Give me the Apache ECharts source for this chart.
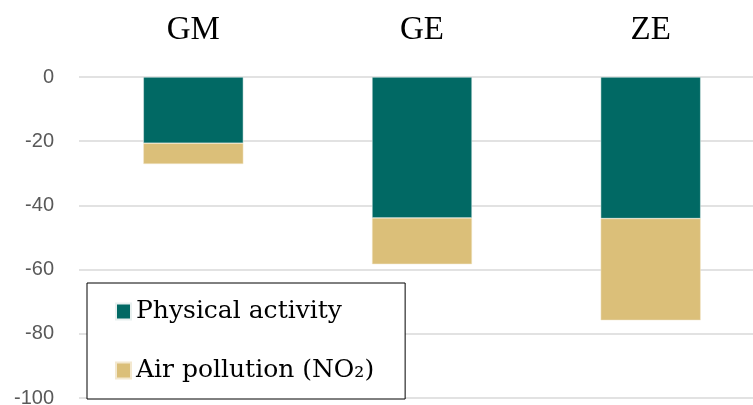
<!DOCTYPE html>
<html>
<head>
<meta charset="utf-8">
<script src="https://cdn.jsdelivr.net/npm/echarts@6/dist/echarts.min.js"></script>
<style>html,body{margin:0;padding:0;background:#fff;}#c{width:753px;height:405px;}</style>
</head>
<body>
<div id="c"></div>
<script>
const categories = ['GM', 'GE', 'ZE'];
const physicalActivity = [-20.6, -43.9, -44.1];
const airPollution = [-6.5, -14.4, -31.7];
const yTicks = [-100, -80, -60, -40, -20, 0];
const seriesNames = ['Physical activity', 'Air pollution (NO\u2082)'];

const chart = echarts.init(document.getElementById('c'));
chart.setOption({
  animation: false,
  backgroundColor: '#fff',
  grid: { left: 79, top: 77, height: 321, width: 686, containLabel: false, outerBoundsMode: 'none' },
  xAxis: {
    type: 'category',
    data: categories,
    position: 'top',
    axisLine: { show: false },
    axisTick: { show: false },
    axisLabel: { color: '#000', fontFamily: 'Liberation Serif', fontSize: 33, margin: 30 }
  },
  yAxis: {
    type: 'value',
    min: yTicks[0],
    max: yTicks[yTicks.length - 1],
    interval: 20,
    axisLine: { show: false },
    axisTick: { show: false },
    axisLabel: { color: '#595959', fontFamily: 'Liberation Sans', fontSize: 20, margin: 25 },
    splitLine: { lineStyle: { color: '#d9d9d9', width: 1.5 } }
  },
  legend: {
    orient: 'vertical',
    left: 87,
    top: 283,
    data: seriesNames,
    icon: 'rect',
    itemWidth: 15,
    itemHeight: 16,
    itemGap: 34,
    padding: [16, 31, 16, 28],
    borderColor: '#000',
    borderWidth: 1,
    borderRadius: 0,
    backgroundColor: '#fff',
    textStyle: { color: '#000', fontFamily: 'DejaVu Serif', fontSize: 25, lineHeight: 24 }
  },
  series: [
    {
      name: seriesNames[0], type: 'bar', stack: 'a', data: physicalActivity, barWidth: 100,
      itemStyle: { color: '#016964', borderColor: '#e8f0ef', borderWidth: 0.5 }
    },
    {
      name: seriesNames[1], type: 'bar', stack: 'a', data: airPollution, barWidth: 100,
      itemStyle: { color: '#dbbf79', borderColor: '#f3e8cf', borderWidth: 0.5 }
    }
  ]
});
</script>
</body>
</html>
